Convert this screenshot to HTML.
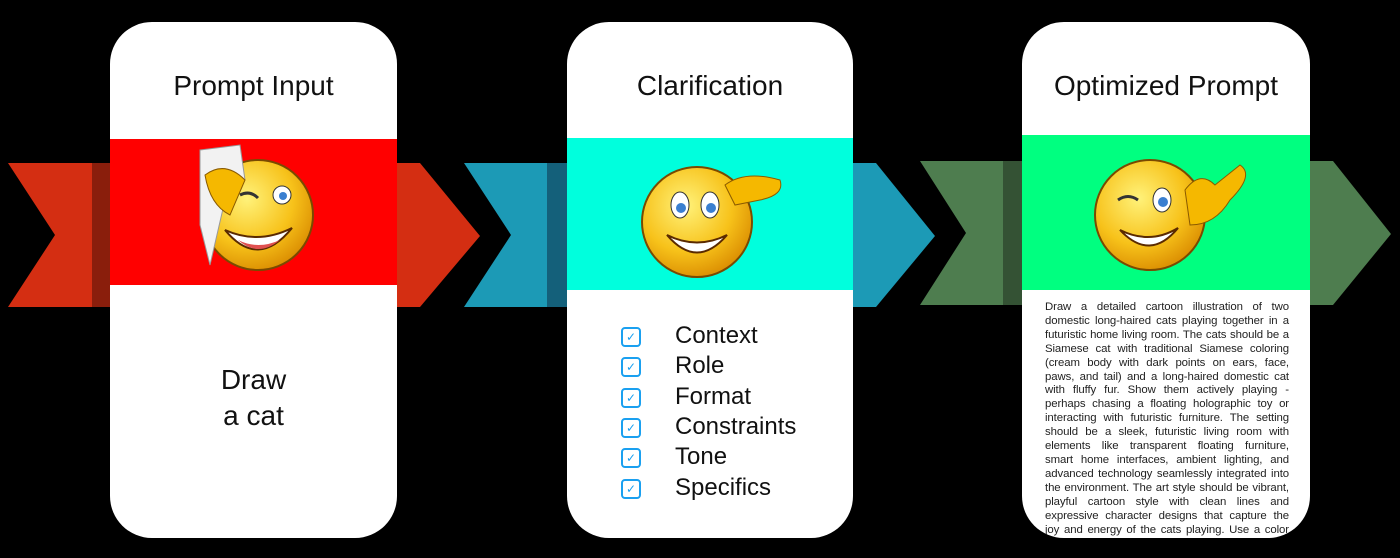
<!DOCTYPE html>
<html><head><meta charset="utf-8"><style>
body{margin:0;width:1400px;height:558px;background:#000;position:relative;overflow:hidden;font-family:"Liberation Sans",sans-serif}
.card{position:absolute;top:22px;height:516px;background:#fff;border-radius:42px;overflow:hidden}
.band{position:absolute;left:0;right:0}
.t{position:absolute;left:0;right:0;text-align:center;color:#111}
.cb{position:absolute;left:621px;width:16px;height:16px;border:2px solid #1aa0f0;border-radius:4px;color:#1aa0f0;font-size:12px;line-height:16px;text-align:center}
.li{position:absolute;left:675px;font-size:24px;color:#111}
.p{position:absolute;left:23px;width:244px;top:279px;font-size:11.4px;letter-spacing:-0.1px;line-height:13.9px;color:#222;white-space:nowrap}
.p div{text-align:justify;text-align-last:justify;white-space:normal}
</style></head><body>
<svg width="1400" height="558" style="position:absolute;left:0;top:0">
<polygon points="8,163 110,163 110,307 8,307 55,235" fill="#d42e12"/>
<rect x="92" y="163" width="18" height="144" fill="#8a1e0c"/>
<polygon points="397,163 420,163 480,236 420,307 397,307" fill="#d42e12"/>
<polygon points="464,163 567,163 567,307 464,307 511,235" fill="#1c9ab6"/>
<rect x="547" y="163" width="20" height="144" fill="#14607a"/>
<polygon points="853,163 876,163 935,236 876,307 853,307" fill="#1c9ab6"/>
<polygon points="920,161 1022,161 1022,305 920,305 966,233" fill="#4e7d4f"/>
<rect x="1003" y="161" width="19" height="144" fill="#345234"/>
<polygon points="1310,161 1333,161 1391,234 1333,305 1310,305" fill="#4e7d4f"/>
</svg>

<div class="card" style="left:110px;width:287px">
<div class="band" style="top:117px;height:146px;background:#ff0000"></div>
<div class="t" style="top:48px;font-size:28px">Prompt Input</div>
<div class="t" style="top:340px;font-size:28px;line-height:36px">Draw<br>a cat</div>
</div>
<div class="card" style="left:567px;width:286px">
<div class="band" style="top:116px;height:152px;background:#00ffdd"></div>
<div class="t" style="top:48px;font-size:28px">Clarification</div>
</div>
<div class="card" style="left:1022px;width:288px">
<div class="band" style="top:113px;height:155px;background:#00ff80"></div>
<div class="t" style="top:48px;font-size:28px">Optimized Prompt</div>
<div class="p">
<div>Draw a detailed cartoon illustration of two</div>
<div>domestic long-haired cats playing together in a</div>
<div>futuristic home living room. The cats should be a</div>
<div>Siamese cat with traditional Siamese coloring</div>
<div>(cream body with dark points on ears, face,</div>
<div>paws, and tail) and a long-haired domestic cat</div>
<div>with fluffy fur. Show them actively playing -</div>
<div>perhaps chasing a floating holographic toy or</div>
<div>interacting with futuristic furniture. The setting</div>
<div>should be a sleek, futuristic living room with</div>
<div>elements like transparent floating furniture,</div>
<div>smart home interfaces, ambient lighting, and</div>
<div>advanced technology seamlessly integrated into</div>
<div>the environment. The art style should be vibrant,</div>
<div>playful cartoon style with clean lines and</div>
<div>expressive character designs that capture the</div>
<div>joy and energy of the cats playing. Use a color</div>
<div>palette that complements the futuristic theme.</div>
</div>
</div>

<svg width="1400" height="558" style="position:absolute;left:0;top:0">
<defs><radialGradient id="g" cx="40%" cy="35%" r="70%"><stop offset="0" stop-color="#fff27a"/><stop offset="0.6" stop-color="#f7c21a"/><stop offset="1" stop-color="#d98a00"/></radialGradient></defs>
<g>
<circle cx="258" cy="215" r="55" fill="url(#g)" stroke="#7a4a00" stroke-width="2"/>
<path d="M225 230 Q258 270 292 228 Q258 245 225 230Z" fill="#fff" stroke="#5a2a00" stroke-width="2"/>
<path d="M238 240 Q258 258 280 240 Q258 250 238 240Z" fill="#e05050"/>
<circle cx="282" cy="195" r="9" fill="#fff" stroke="#333"/><circle cx="283" cy="196" r="4" fill="#3a7fd0"/>
<path d="M240 195 Q250 190 258 198" stroke="#333" stroke-width="3" fill="none"/>
<path d="M200 150 L240 145 L245 180 L225 200 L210 265 L200 225 Z" fill="#f2f2f2" stroke="#999"/>
<path d="M205 175 Q225 160 245 180 L230 215 Q210 205 205 175Z" fill="#f5b800" stroke="#8a5a00"/>
</g>
<g>
<circle cx="697" cy="222" r="55" fill="url(#g)" stroke="#7a4a00" stroke-width="2"/>
<ellipse cx="680" cy="205" rx="9" ry="13" fill="#fff" stroke="#333"/><circle cx="681" cy="208" r="5" fill="#3a7fd0"/>
<ellipse cx="710" cy="205" rx="9" ry="13" fill="#fff" stroke="#333"/><circle cx="711" cy="208" r="5" fill="#3a7fd0"/>
<path d="M667 235 Q697 270 727 235 Q697 250 667 235Z" fill="#fff" stroke="#5a2a00" stroke-width="2"/>
<path d="M725 185 Q745 170 780 180 Q785 195 760 200 L735 205 Z" fill="#f5b800" stroke="#8a5a00"/>
</g>
<g>
<circle cx="1150" cy="215" r="55" fill="url(#g)" stroke="#7a4a00" stroke-width="2"/>
<path d="M1118 200 Q1128 193 1138 200" stroke="#333" stroke-width="3" fill="none"/>
<ellipse cx="1162" cy="200" rx="9" ry="12" fill="#fff" stroke="#333"/><circle cx="1163" cy="202" r="5" fill="#3a7fd0"/>
<path d="M1120 230 Q1150 262 1178 228 Q1150 245 1120 230Z" fill="#fff" stroke="#5a2a00" stroke-width="2"/>
<path d="M1185 190 Q1200 170 1215 185 L1240 165 Q1255 175 1230 200 Q1215 225 1190 225 Z" fill="#f5b800" stroke="#8a5a00"/>
</g>
</svg>

<div class="cb" style="top:327px">✓</div><div class="li" style="top:322px">Context</div>
<div class="cb" style="top:357px">✓</div><div class="li" style="top:352px">Role</div>
<div class="cb" style="top:388px">✓</div><div class="li" style="top:383px">Format</div>
<div class="cb" style="top:418px">✓</div><div class="li" style="top:413px">Constraints</div>
<div class="cb" style="top:448px">✓</div><div class="li" style="top:443px">Tone</div>
<div class="cb" style="top:479px">✓</div><div class="li" style="top:474px">Specifics</div>
</body></html>
